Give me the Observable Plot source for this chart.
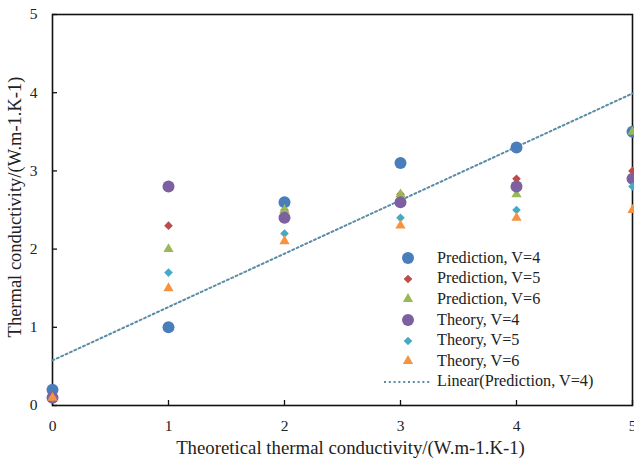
<!DOCTYPE html>
<html><head><meta charset="utf-8">
<script src="https://cdn.jsdelivr.net/npm/d3@7"></script>
<script src="https://cdn.jsdelivr.net/npm/@observablehq/plot@0.6"></script>
<style>
body{margin:0;background:#fff;}
#wrap{position:relative;width:634px;height:461px;font-family:"Liberation Serif","Times New Roman",serif;}
#legend{position:absolute;left:383px;top:248px;font-size:16.2px;color:#222;}
.row{display:flex;align-items:center;height:20.6px;white-space:nowrap;}
.row svg{flex:none;margin-right:4px;}
</style></head>
<body><div id="wrap"></div>
<script>
const xValues = [0, 1, 2, 3, 4, 5];
const predV4 = [0.2, 1.0, 2.6, 3.1, 3.3, 3.5];
const predV5 = [0.1, 2.3, 2.5, 2.7, 2.9, 3.0];
const predV6 = [0.1, 2.0, 2.5, 2.7, 2.7, 3.5];
const theoV4 = [0.1, 2.8, 2.4, 2.6, 2.8, 2.9];
const theoV5 = [0.1, 1.7, 2.2, 2.4, 2.5, 2.8];
const theoV6 = [0.1, 1.5, 2.1, 2.3, 2.4, 2.5];
const seriesNames = ["Prediction, V=4", "Prediction, V=5", "Prediction, V=6", "Theory, V=4", "Theory, V=5", "Theory, V=6"];
const seriesColors = ["#4a7ebb", "#be4b48", "#98b954", "#7d60a0", "#46aac5", "#f69240"];
const seriesSymbols = ["circle", "diamond2", "triangle", "circle", "diamond2", "triangle"];
const seriesRadius = [6, 3.9, 3.8, 6, 3.9, 3.8];
const trendName = "Linear(Prediction, V=4)";
const trendColor = "#5a8ca6";
const tickValues = [0, 1, 2, 3, 4, 5];
const xTitle = "Theoretical thermal conductivity/(W.m-1.K-1)";
const yTitle = "Thermal conductivity/(W.m-1.K-1)";

const allSeries = [predV4, predV5, predV6, theoV4, theoV5, theoV6];
const rows = [];
allSeries.forEach((vals, s) => vals.forEach((v, i) => rows.push({x: xValues[i], y: v, s})));
const trendRows = xValues.map((x, i) => ({x, y: predV4[i]}));

const font = '"Liberation Serif","Times New Roman",serif';
const fmt = d3.format("d");
const dash = "2,2.8";
const marks = [
  Plot.frame({stroke: "#111", strokeWidth: 1.6}),
  Plot.axisX({ticks: tickValues, tickSize: 5, dy: -5, text: null, label: null, strokeWidth: 1.3, stroke: "#111"}),
  Plot.axisY({ticks: tickValues, tickSize: 5, dx: 5, text: null, label: null, strokeWidth: 1.3, stroke: "#111"}),
  Plot.axisX({ticks: tickValues, tickSize: 0, tickPadding: 14, fontSize: 15.5, fill: "#222", fontFamily: font,
    tickFormat: fmt, label: null}),
  Plot.axisY({ticks: tickValues, tickSize: 0, tickPadding: 15, fontSize: 15.5, fill: "#222", fontFamily: font,
    tickFormat: fmt, label: null}),
  Plot.text([xTitle], {frameAnchor: "bottom", dy: 42, dx: 8, lineAnchor: "middle", textAnchor: "middle",
    text: d => d, fontSize: 18.8, fontFamily: font, fill: "#222"}),
  Plot.text([yTitle], {frameAnchor: "left", dx: -37, dy: -3, rotate: -90, lineAnchor: "middle", textAnchor: "middle",
    text: d => d, fontSize: 18.5, fontFamily: font, fill: "#222"}),
  Plot.linearRegressionY(trendRows, {x: "x", y: "y", ci: 0, stroke: trendColor, strokeWidth: 2,
    strokeDasharray: dash})
];
allSeries.forEach((vals, s) => {
  marks.push(Plot.dot(rows.filter(d => d.s === s), {x: "x", y: "y", symbol: () => seriesSymbols[s],
    r: seriesRadius[s], fill: seriesColors[s], stroke: "none"}));
});

const chart = Plot.plot({
  width: 634, height: 461,
  marginLeft: 52, marginRight: 2, marginTop: 14, marginBottom: 56,
  style: {fontFamily: font, fontSize: "15px", background: "#fff", color: "#222", overflow: "visible"},
  x: {domain: [0, 5]},
  y: {domain: [0, 5]},
  symbol: {type: "identity"},
  marks
});
const wrap = document.getElementById("wrap");
wrap.appendChild(chart);

// legend
const legend = document.createElement("div");
legend.id = "legend";
const symbolMap = {circle: d3.symbolCircle, diamond2: d3.symbolDiamond2, triangle: d3.symbolTriangle};
seriesNames.forEach((name, s) => {
  const row = document.createElement("div");
  row.className = "row";
  const svg = d3.create("svg").attr("width", 50).attr("height", 20);
  svg.append("path").attr("transform", "translate(25,10)")
    .attr("d", d3.symbol(symbolMap[seriesSymbols[s]], Math.PI * seriesRadius[s] ** 2)())
    .attr("fill", seriesColors[s]);
  row.appendChild(svg.node());
  const span = document.createElement("span");
  span.textContent = name;
  row.appendChild(span);
  legend.appendChild(row);
});
const trow = document.createElement("div");
trow.className = "row";
const tsvg = d3.create("svg").attr("width", 50).attr("height", 20);
tsvg.append("line").attr("x1", 1).attr("x2", 48).attr("y1", 10).attr("y2", 10)
  .attr("stroke", trendColor).attr("stroke-width", 2).attr("stroke-dasharray", dash);
trow.appendChild(tsvg.node());
const tspan = document.createElement("span");
tspan.textContent = trendName;
trow.appendChild(tspan);
legend.appendChild(trow);
wrap.appendChild(legend);
</script>
</body></html>
